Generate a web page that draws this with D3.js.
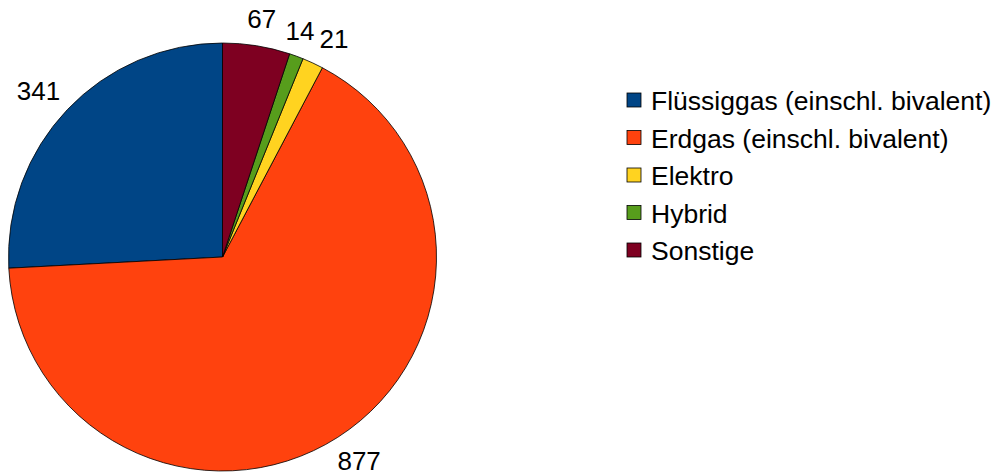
<!DOCTYPE html>
<html>
<head>
<meta charset="utf-8">
<script src="https://cdn.jsdelivr.net/npm/d3@7"></script>
<style>
  body { margin: 0; background: #fff; }
  svg text { font-family: "Liberation Sans", Arial, sans-serif; fill: #000; }
</style>
</head>
<body>
<svg id="chart" width="999" height="475"></svg>
<script>
// Chart data
const categories = ['Flüssiggas (einschl. bivalent)', 'Erdgas (einschl. bivalent)', 'Elektro', 'Hybrid', 'Sonstige'];
const values = [341, 877, 21, 14, 67];
const colors = ['#004586', '#ff420e', '#ffd320', '#579d1c', '#7e0021'];

const svg = d3.select('#chart');
const cx = 222.5, cy = 257, radius = 214;

// Slices run counter-clockwise from 12 o'clock
const pie = d3.pie().sort(null).startAngle(0).endAngle(-2 * Math.PI);
const arcs = pie(values);
const arc = d3.arc().innerRadius(0).outerRadius(radius);

const g = svg.append('g').attr('transform', `translate(${cx},${cy})`);

g.selectAll('path')
  .data(arcs)
  .enter().append('path')
  .attr('d', arc)
  .attr('fill', (d, i) => colors[i])
  .attr('stroke', '#000')
  .attr('stroke-width', 0.8)
  .attr('stroke-linejoin', 'round');

// Value labels outside the pie, text box pushed out along the mid angle
const labelR = 232;
const textH = 19;
const labels = [];
g.selectAll('text.value')
  .data(arcs)
  .enter().append('text')
  .attr('class', 'value')
  .attr('font-size', 26)
  .attr('text-anchor', 'middle')
  .text(d => d.data)
  .each(function (d) {
    const a = (d.startAngle + d.endAngle) / 2;
    const ux = Math.sin(a), uy = -Math.cos(a);
    const w = this.getComputedTextLength();
    labels.push({
      el: this, w,
      x: labelR * ux + ux * w / 2,
      y: labelR * uy + uy * textH / 2
    });
  });

// push apart labels that overlap horizontally (small slices at the top)
labels.sort((a, b) => a.x - b.x);
for (let k = 1; k < labels.length; k++) {
  const p = labels[k - 1], q = labels[k];
  if (Math.abs(p.y - q.y) > textH) continue;
  const gap = (q.x - q.w / 2) - (p.x + p.w / 2);
  if (gap < 5) {
    const s = (5 - gap) / 2;
    p.x -= s;
    q.x += s;
  }
}
labels.forEach(l => {
  d3.select(l.el).attr('x', l.x).attr('y', Math.min(l.y + textH / 2, 215.5));
});

// Legend
const legend = svg.append('g').attr('transform', 'translate(627,100)');
const item = legend.selectAll('g')
  .data(categories)
  .enter().append('g')
  .attr('transform', (d, i) => `translate(0,${i * 37.5})`);

item.append('rect')
  .attr('x', 0)
  .attr('y', -7)
  .attr('width', 14)
  .attr('height', 14)
  .attr('fill', (d, i) => colors[i])
  .attr('stroke', '#000')
  .attr('stroke-width', 0.8);

item.append('text')
  .attr('x', 24)
  .attr('y', 10)
  .attr('font-size', 26.5)
  .text(d => d);
</script>
</body>
</html>
